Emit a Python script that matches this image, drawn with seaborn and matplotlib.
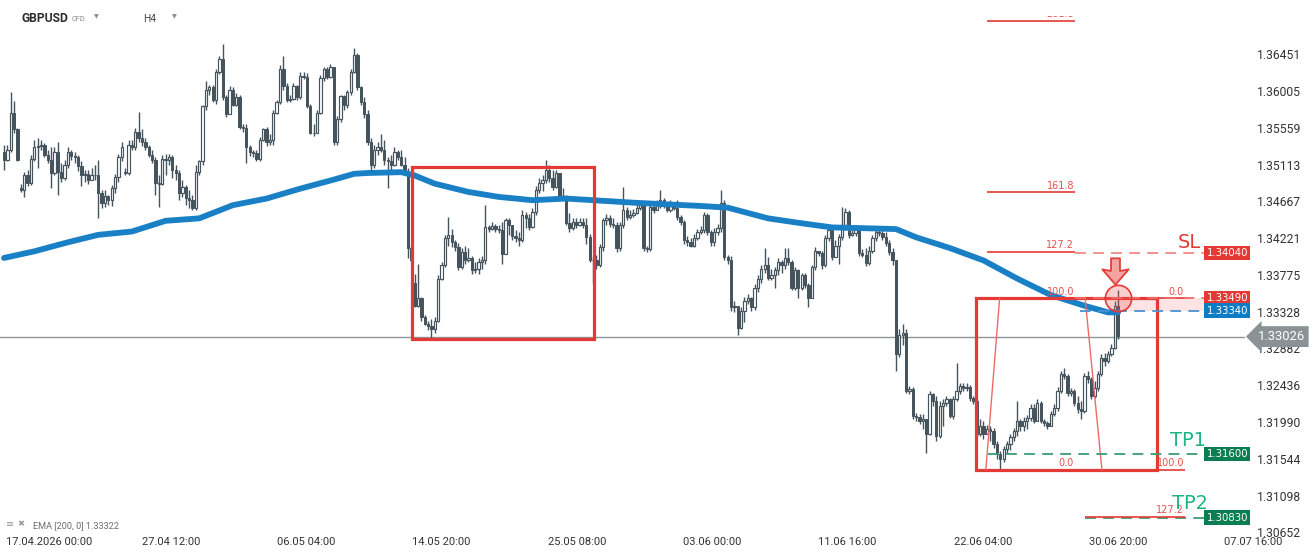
import numpy as np
import pandas as pd
import matplotlib
matplotlib.use("Agg")
import matplotlib.pyplot as plt
import matplotlib.transforms as mtrans
from matplotlib.path import Path
from matplotlib.patches import Rectangle
import seaborn as sns

# ---------------- data (prices in pips above 1.30000) ----------------
BASE = 1.30
PIP = 0.0001

first_open_p = 526
gap_open_p = {5: 483, 36: 502, 122: 367}

close_p = [
    517, 529, 574, 554, 517, 480, 498, 489, 518, 533, 534, 535, 523, 517, 501, 527, 502, 495, 511, 526,
    522, 520, 509, 498, 500, 493, 498, 499, 477, 465, 473, 468, 483, 496, 520, 533, 501, 535, 533, 551,
    544, 538, 532, 523, 517, 489, 488, 518, 517, 520, 505, 501, 477, 484, 471, 468, 459, 502, 515, 582,
    602, 605, 590, 623, 639, 593, 573, 602, 584, 593, 557, 556, 532, 526, 525, 518, 541, 554, 538, 541,
    574, 587, 627, 606, 590, 591, 606, 593, 619, 618, 582, 550, 550, 574, 616, 627, 618, 629, 538, 566,
    594, 583, 599, 623, 644, 605, 587, 572, 538, 511, 529, 533, 529, 517, 515, 511, 526, 521, 511, 502,
    410, 395, 340, 349, 326, 318, 316, 312, 322, 373, 389, 422, 426, 417, 411, 387, 405, 395, 398, 383,
    385, 393, 395, 435, 433, 437, 433, 432, 403, 444, 438, 424, 422, 420, 450, 446, 435, 454, 480, 489,
    493, 505, 495, 484, 501, 472, 473, 440, 434, 441, 438, 441, 438, 423, 395, 395, 389, 411, 444, 446,
    439, 438, 410, 438, 456, 448, 450, 452, 459, 462, 410, 409, 460, 456, 462, 468, 462, 456, 462, 459,
    448, 441, 420, 417, 413, 422, 429, 432, 450, 429, 417, 429, 434, 465, 399, 395, 338, 340, 313, 334,
    346, 349, 338, 362, 373, 385, 389, 374, 377, 383, 393, 389, 398, 393, 362, 383, 361, 377, 365, 350,
    387, 407, 404, 389, 422, 432, 399, 413, 423, 438, 454, 426, 428, 434, 404, 402, 392, 407, 422, 429,
    428, 423, 416, 405, 395, 282, 304, 307, 237, 239, 206, 205, 200, 203, 185, 233, 225, 182, 218, 222,
    227, 206, 227, 237, 243, 240, 242, 228, 225, 184, 194, 185, 190, 188, 172, 160, 154, 166, 172, 181,
    188, 200, 194, 200, 204, 216, 200, 222, 200, 198, 194, 209, 216, 237, 257, 255, 234, 237, 222, 215,
    212, 255, 251, 231, 240, 257, 277, 273, 282, 289, 340, 303,
]

high_p = [
    535, 535, 599, 588, 556, 488, 502, 505, 523, 541, 544, 541, 537, 529, 532, 532, 539, 513, 517, 532,
    529, 526, 523, 515, 505, 505, 507, 511, 517, 480, 480, 474, 487, 500, 524, 539, 507, 541, 541, 556,
    575, 554, 544, 535, 529, 520, 499, 523, 524, 524, 523, 511, 505, 493, 487, 480, 474, 511, 517, 584,
    612, 608, 608, 627, 643, 657, 595, 606, 605, 598, 595, 561, 560, 535, 529, 529, 545, 556, 557, 548,
    578, 590, 632, 643, 610, 596, 610, 608, 624, 623, 622, 585, 561, 578, 620, 630, 629, 633, 627, 570,
    596, 596, 602, 627, 652, 646, 607, 593, 578, 544, 535, 538, 548, 541, 521, 523, 532, 529, 529, 520,
    507, 412, 379, 391, 351, 329, 322, 324, 326, 377, 393, 426, 448, 433, 420, 416, 410, 412, 410, 400,
    393, 398, 400, 462, 438, 441, 439, 438, 441, 446, 446, 432, 432, 429, 456, 454, 451, 459, 485, 495,
    499, 517, 511, 505, 505, 501, 483, 474, 452, 446, 446, 446, 446, 446, 427, 400, 401, 415, 446, 451,
    450, 446, 441, 441, 484, 460, 456, 457, 463, 467, 463, 413, 463, 462, 468, 480, 471, 466, 468, 465,
    468, 450, 444, 424, 422, 427, 433, 437, 454, 452, 432, 434, 439, 480, 468, 401, 400, 346, 340, 338,
    351, 354, 351, 366, 377, 389, 410, 399, 385, 387, 398, 395, 410, 410, 395, 387, 385, 380, 380, 367,
    390, 411, 407, 406, 426, 437, 434, 420, 427, 460, 459, 456, 434, 438, 437, 409, 410, 413, 426, 433,
    433, 432, 429, 420, 410, 393, 312, 318, 312, 243, 242, 210, 209, 209, 203, 237, 234, 231, 225, 227,
    231, 228, 231, 271, 246, 246, 246, 244, 231, 227, 203, 200, 195, 194, 192, 176, 164, 170, 176, 185,
    192, 225, 203, 205, 207, 221, 221, 227, 225, 203, 200, 212, 221, 242, 261, 264, 257, 240, 239, 231,
    225, 259, 261, 254, 249, 261, 281, 283, 285, 294, 346, 359,
]

low_p = [
    505, 515, 527, 550, 515, 478, 472, 485, 487, 515, 507, 529, 521, 513, 483, 498, 474, 490, 493, 507,
    517, 513, 504, 485, 490, 488, 493, 493, 446, 459, 460, 462, 461, 477, 490, 515, 498, 499, 529, 529,
    539, 534, 529, 520, 513, 474, 460, 487, 499, 511, 495, 493, 468, 472, 462, 459, 456, 456, 499, 511,
    578, 596, 587, 585, 621, 590, 569, 572, 582, 582, 554, 551, 513, 522, 520, 515, 516, 540, 534, 535,
    535, 572, 585, 602, 587, 587, 590, 590, 591, 615, 580, 548, 546, 549, 572, 612, 615, 616, 535, 535,
    563, 578, 580, 596, 622, 602, 583, 568, 535, 502, 507, 523, 527, 511, 483, 505, 509, 517, 509, 499,
    398, 393, 338, 338, 322, 317, 310, 301, 307, 320, 371, 387, 413, 411, 407, 383, 385, 391, 393, 379,
    380, 378, 385, 391, 429, 432, 429, 428, 391, 407, 426, 420, 417, 413, 417, 434, 432, 434, 450, 477,
    479, 489, 490, 480, 483, 468, 468, 438, 429, 432, 434, 437, 434, 415, 393, 367, 385, 387, 407, 438,
    435, 434, 405, 407, 434, 444, 445, 448, 451, 456, 407, 405, 407, 452, 456, 459, 459, 454, 454, 456,
    444, 438, 415, 412, 411, 411, 420, 427, 428, 426, 413, 413, 426, 429, 395, 391, 334, 332, 304, 312,
    320, 342, 334, 335, 357, 368, 380, 371, 371, 361, 377, 380, 385, 389, 359, 359, 350, 359, 361, 338,
    349, 383, 400, 385, 387, 418, 395, 407, 391, 420, 432, 422, 424, 424, 400, 399, 388, 389, 404, 418,
    424, 420, 413, 402, 389, 261, 278, 292, 234, 233, 203, 200, 196, 190, 161, 183, 218, 176, 180, 194,
    218, 204, 203, 225, 233, 237, 237, 225, 221, 181, 182, 179, 185, 176, 168, 154, 139, 151, 161, 165,
    176, 182, 188, 188, 190, 200, 198, 200, 198, 194, 190, 194, 206, 212, 234, 251, 231, 231, 218, 210,
    203, 210, 246, 227, 228, 237, 255, 267, 271, 279, 288, 300,
]

# EMA(200) (candle index, pips)
ema_idx = [0, 9, 19, 28, 38, 48, 58, 68, 78, 88, 98, 104, 108, 118, 122, 128, 138, 147, 157, 167,
           175, 187, 197, 207, 215, 227, 237, 246, 256, 265, 271, 281, 291, 301, 311, 321, 328, 331]
ema_p = [398, 406, 417, 426, 430, 443, 446, 462, 470, 482, 493, 500, 501, 502, 498, 488, 478, 472, 468, 470,
         468, 465, 463, 461, 459, 446, 440, 435, 434, 433, 423, 410, 395, 373, 353, 340, 332, 332]

y_ticks = [1.30652, 1.31098, 1.31544, 1.31990, 1.32436, 1.32882, 1.33328,
           1.33775, 1.34221, 1.34667, 1.35113, 1.35559, 1.36005, 1.36451]
x_tick_pos = [0.6, 49.6, 89.8, 130.0, 170.2, 210.4, 250.6, 290.8, 331.0, 371.2]
x_tick_labels = ["17.04.2026 00:00", "27.04 12:00", "06.05 04:00", "14.05 20:00", "25.05 08:00",
                 "03.06 00:00", "11.06 16:00", "22.06 04:00", "30.06 20:00", "07.07 16:00"]

last_price = 1.33026
sl_level = 1.34040
entry_level = 1.33490
ema_level = 1.33340
tp1_level = 1.31600
tp2_level = 1.30830
fib_low, fib_high = 1.31408, 1.33490
fib_up_levels = [261.8, 161.8, 127.2, 100.0]
fib_dn_levels = [0.0, 100.0, 127.2]

box1 = (121.2, 175.3, 1.33000, 1.35083)
box2 = (288.8, 342.5, fib_low, fib_high)

# ---------------- style ----------------
sns.set_theme(style="white")
plt.rcParams["font.family"] = ["Roboto", "DejaVu Sans"]

DARK = "#45535d"
RED = "#e53935"
FIBRED = "#e8504c"
BLUE = "#1a80c6"
GREEN_TAG = "#0b7d52"
GREEN_TXT = "#1db584"

W, H = 1316, 558
TOP_PX, BOT_PX = 16, 533
fig = plt.figure(figsize=(W / 100, H / 100), dpi=100)
fig.patch.set_facecolor("white")
ax = fig.add_axes([0, (H - BOT_PX) / H, 1245 / W, (BOT_PX - TOP_PX) / H])
ax.set_facecolor("white")
ax.set_xlim(-1.19, 368.7)
ax.set_ylim(1.30644, 1.36914)
for s in ax.spines.values():
    s.set_visible(False)

# ---------------- candles ----------------
c = BASE + np.array(close_p) * PIP
hi = BASE + np.array(high_p) * PIP
lo = BASE + np.array(low_p) * PIP
n = len(c)
o = np.empty(n)
o[0] = BASE + first_open_p * PIP
o[1:] = c[:-1]
for k, v in gap_open_p.items():
    o[k] = BASE + v * PIP
hi = np.maximum(hi, np.maximum(o, c))
lo = np.minimum(lo, np.minimum(o, c))
x = np.arange(n)
bull = c >= o
bear = ~bull

ax.vlines(x, lo, hi, color=DARK, lw=1.0, zorder=3)
ax.bar(x[bear], (o - c)[bear], bottom=c[bear], width=0.68, color=DARK,
       edgecolor=DARK, linewidth=0.7, zorder=4)
ax.bar(x[bull], (c - o)[bull], bottom=o[bull], width=0.68, color="white",
       edgecolor=DARK, linewidth=0.85, zorder=4)

# current price line
ax.axhline(last_price, color="#8e9598", lw=1.0, zorder=2)

# EMA line
ema_df = pd.DataFrame({"idx": ema_idx, "ema": BASE + np.array(ema_p) * PIP})
sns.lineplot(data=ema_df, x="idx", y="ema", ax=ax, color=BLUE, linewidth=4.2,
             zorder=5, legend=False)
ax.set_xlabel("")
ax.set_ylabel("")

# ---------------- boxes ----------------
for (bx0, bx1, by0, by1) in (box1, box2):
    ax.add_patch(Rectangle((bx0, by0), bx1 - bx0, by1 - by0, fill=False,
                           ec=RED, lw=2.3, zorder=6))

# ---------------- fibonacci ----------------
span = fib_high - fib_low
up_off = mtrans.offset_copy(ax.transData, fig=fig, y=1.2, units="points")
for lv in fib_up_levels:
    yv = fib_low + lv / 100 * span
    ax.hlines(yv, 292.0, 318.2, color=RED, lw=1.2, zorder=6)
    ax.text(317.9, yv, f"{lv:.1f}", transform=up_off, ha="right", va="bottom",
            fontsize=7, color=FIBRED, family="DejaVu Sans", clip_on=True, zorder=7)
ax.text(317.9, fib_low, "0.0", transform=up_off, ha="right", va="bottom",
        fontsize=7, color=FIBRED, family="DejaVu Sans", zorder=7)
for lv in fib_dn_levels:
    yv = fib_high - lv / 100 * span
    ax.hlines(yv, 321.2, 350.9, color=RED, lw=1.2, zorder=6)
    ax.text(350.6, yv, f"{lv:.1f}", transform=up_off, ha="right", va="bottom",
            fontsize=7, color=FIBRED, family="DejaVu Sans", zorder=7)
ax.plot([295.8, 291.7], [fib_high, fib_low], color="#ee6a68", lw=1.0, zorder=6)
ax.plot([321.2, 326.2], [fib_high, fib_low], color="#ee6a68", lw=1.0, zorder=6)

# ---------------- levels ----------------
ax.add_patch(Rectangle((330.7, ema_level), 356.5 - 330.7, entry_level - ema_level,
                       fc="#fde3e3", ec="none", zorder=2))
dash = (0, (6, 4))
ax.hlines(sl_level, 318.2, 356.5, colors="#f08a88", lw=1.3, linestyles=dash, zorder=6)
ax.hlines(entry_level, 318.2, 356.5, colors="#ee6b6b", lw=1.3, linestyles=dash, zorder=6)
ax.hlines(ema_level, 319.7, 356.5, colors="#4a92d2", lw=1.3, linestyles=dash, zorder=6)
ax.hlines(tp1_level, 292.3, 356.5, colors="#3a9d75", lw=1.3, linestyles=dash, zorder=6)
ax.hlines(tp2_level, 321.2, 356.5, colors="#3a9d75", lw=1.3, linestyles=dash, zorder=5)

# circle and arrow
ax.scatter([331.0], [entry_level], s=360, facecolor=(0.93, 0.35, 0.35, 0.28),
           edgecolor=RED, linewidth=1.2, zorder=8)
arrow = Path([(-0.17, 0.5), (0.17, 0.5), (0.17, 0.02), (0.5, 0.08), (0.0, -0.5),
              (-0.5, 0.08), (-0.17, 0.02), (-0.17, 0.5)], closed=True)
ax.scatter([330.1], [1.33822], marker=arrow, s=360, facecolor="#f5a3a1",
           edgecolor="#e0403a", linewidth=1.3, zorder=9)

# tags
tags = [(sl_level, "1.34040", RED), (entry_level, "1.33490", RED),
        (ema_level, "1.33340", "#0d7cc4"), (tp1_level, "1.31600", GREEN_TAG),
        (tp2_level, "1.30830", GREEN_TAG)]
for yv, lab, col in tags:
    ax.text(357.3, yv, lab, ha="left", va="center", fontsize=7.3, color="white",
            family="DejaVu Sans",
            bbox=dict(boxstyle="square,pad=0.22", fc=col, ec="none"),
            clip_on=False, zorder=10)
ax.text(372.4, last_price, "1.33026", ha="left", va="center", fontsize=9.4, color="white",
        bbox=dict(boxstyle="larrow,pad=0.3", fc="#8a9296", ec="none"),
        clip_on=False, zorder=10)

ax.text(352.3, 1.34173, "SL", ha="center", va="center", fontsize=14, color=RED,
        family="DejaVu Sans", zorder=10)
ax.text(351.7, 1.31760, "TP1", ha="center", va="center", fontsize=14, color=GREEN_TXT,
        family="DejaVu Sans", zorder=10)
ax.text(352.3, 1.30996, "TP2", ha="center", va="center", fontsize=14, color=GREEN_TXT,
        family="DejaVu Sans", zorder=10)

# ---------------- axes ticks ----------------
ax.yaxis.tick_right()
ax.set_yticks(y_ticks)
ax.set_yticklabels([f"{t:.5f}" for t in y_ticks])
ax.tick_params(axis="y", length=0, pad=8.6, labelsize=8.7, labelcolor="#333333")
ax.set_xticks([])
xt = ax.get_xaxis_transform()
xlab_y = -(542 - BOT_PX) / (BOT_PX - TOP_PX)
for pos, lab in zip(x_tick_pos, x_tick_labels):
    ax.text(pos, xlab_y, lab, transform=xt, ha="left" if pos < 5 else "center",
            va="center", fontsize=8, color="#333333", clip_on=False)

# ---------------- header / legend ----------------
def ftext(px, py, s, **kw):
    fig.text(px / W, 1 - py / H, s, **kw)

ftext(21, 18, "GBPUSD", ha="left", va="center", fontsize=8.7, fontweight="bold", color="#2d2d2d")
ftext(72, 19.5, "CFD", ha="left", va="center", fontsize=5.3, color="#8a8a8a")
ftext(94, 17, "\u25bc", ha="left", va="center", fontsize=4.5, color="#8a8a8a", family="DejaVu Sans")
ftext(143, 19, "H4", ha="left", va="center", fontsize=7.4, color="#444444")
ftext(172, 17, "\u25bc", ha="left", va="center", fontsize=4.5, color="#8a8a8a", family="DejaVu Sans")
ftext(6, 524, "\u2261", ha="left", va="center", fontsize=7, color="#9a9a9a", family="DejaVu Sans")
ftext(17, 524, "\u2716", ha="left", va="center", fontsize=6, color="#9a9a9a", family="DejaVu Sans")
ftext(33, 526, "EMA [200, 0] 1.33322", ha="left", va="center", fontsize=6.6, color="#6d6d6d")

fig.savefig("out.png", dpi=100, facecolor="white")
